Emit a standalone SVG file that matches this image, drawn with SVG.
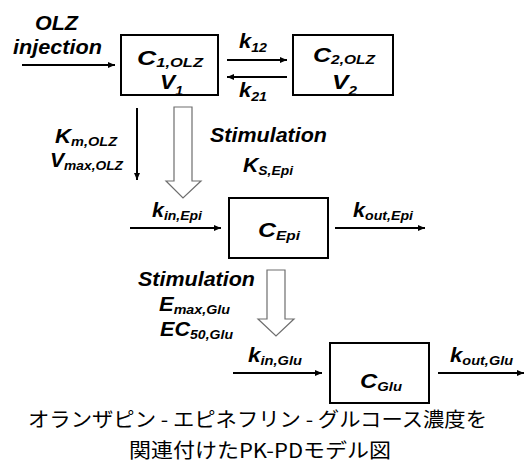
<svg xmlns="http://www.w3.org/2000/svg" width="525" height="464" viewBox="0 0 525 464">
  <style>
    .box { fill: #ffffff; stroke: #000000; stroke-width: 2; }
    .lbl { font-family: "Liberation Sans", Arial, sans-serif; font-weight: bold; font-style: italic; font-size: 20px; fill: #000000; }
    .big { font-size: 21px; }
    .sub { font-size: 13px; }
    .conn { stroke: #000000; stroke-width: 2; fill: none; marker-end: url(#ah); }
    .hollow { fill: #ffffff; stroke: #6e6e6e; stroke-width: 1.2; }
    .cap { font-family: "Noto Sans CJK JP", "Noto Sans", sans-serif; font-size: 20px; fill: #000000; }
  </style>
  <defs>
    <marker id="ah" markerWidth="8" markerHeight="8" refX="7" refY="3.5" orient="auto" markerUnits="userSpaceOnUse">
      <path d="M0,0.5 L7,3.5 L0,6.5 Z" fill="#000000"/>
    </marker>
  </defs>

  <!-- compartments -->
  <g id="central">
    <rect class="box" x="121" y="35" width="97" height="60"/>
    <text class="lbl big" x="137" y="65" textLength="66" lengthAdjust="spacingAndGlyphs">C<tspan class="sub" dy="2">1,OLZ</tspan></text>
    <text class="lbl big" x="160" y="89" textLength="23" lengthAdjust="spacingAndGlyphs">V<tspan class="sub" dy="6">1</tspan></text>
  </g>
  <g id="peripheral">
    <rect class="box" x="293" y="35" width="100" height="60"/>
    <text class="lbl big" x="313" y="62" textLength="62" lengthAdjust="spacingAndGlyphs">C<tspan class="sub" dy="2">2,OLZ</tspan></text>
    <text class="lbl big" x="332" y="89" textLength="25" lengthAdjust="spacingAndGlyphs">V<tspan class="sub" dy="6">2</tspan></text>
  </g>
  <g id="epinephrine">
    <rect class="box" x="229" y="198" width="99" height="60"/>
    <text class="lbl big" x="258" y="237" textLength="42" lengthAdjust="spacingAndGlyphs">C<tspan class="sub" dy="3">Epi</tspan></text>
  </g>
  <g id="glucose">
    <rect class="box" x="330" y="343" width="99" height="60"/>
    <text class="lbl big" x="360" y="388" textLength="42" lengthAdjust="spacingAndGlyphs">C<tspan class="sub" dy="3">Glu</tspan></text>
  </g>

  <!-- connectors -->
  <g id="connectors">
    <line class="conn" x1="22" y1="65" x2="115" y2="65"/>
    <line class="conn" x1="227" y1="60" x2="287" y2="60"/>
    <line class="conn" x1="287" y1="77" x2="227" y2="77"/>
    <line class="conn" x1="137" y1="108" x2="137" y2="180"/>
    <line class="conn" x1="130" y1="228" x2="221" y2="228"/>
    <line class="conn" x1="335" y1="228" x2="425" y2="228"/>
    <line class="conn" x1="233" y1="373" x2="322" y2="373"/>
    <line class="conn" x1="438" y1="373" x2="524" y2="373"/>
    <polygon class="hollow" points="174,107 192,107 192,181 201,181 183,198 166,181 174,181"/>
    <polygon class="hollow" points="267,270 285,270 285,319 294,319 276,336 258,319 267,319"/>
  </g>

  <!-- rate constants and effect labels -->
  <g id="labels">
    <text class="lbl" x="35" y="30" textLength="43" lengthAdjust="spacingAndGlyphs">OLZ</text>
    <text class="lbl" x="13" y="54" textLength="89" lengthAdjust="spacingAndGlyphs">injection</text>
    <text class="lbl" x="239" y="48" textLength="28" lengthAdjust="spacingAndGlyphs">k<tspan class="sub" dy="4">12</tspan></text>
    <text class="lbl" x="239" y="97" textLength="28" lengthAdjust="spacingAndGlyphs">k<tspan class="sub" dy="4">21</tspan></text>
    <text class="lbl" x="55" y="143" textLength="62" lengthAdjust="spacingAndGlyphs">K<tspan class="sub" dy="3">m,OLZ</tspan></text>
    <text class="lbl" x="50" y="167" textLength="73" lengthAdjust="spacingAndGlyphs">V<tspan class="sub" dy="3">max,OLZ</tspan></text>
    <text class="lbl" x="210" y="142" textLength="117" lengthAdjust="spacingAndGlyphs">Stimulation</text>
    <text class="lbl" x="243" y="172" textLength="50" lengthAdjust="spacingAndGlyphs">K<tspan class="sub" dy="3">S,Epi</tspan></text>
    <text class="lbl" x="152" y="217" textLength="50" lengthAdjust="spacingAndGlyphs">k<tspan class="sub" dy="3">in,Epi</tspan></text>
    <text class="lbl" x="353" y="217" textLength="60" lengthAdjust="spacingAndGlyphs">k<tspan class="sub" dy="3">out,Epi</tspan></text>
    <text class="lbl" x="138" y="286" textLength="117" lengthAdjust="spacingAndGlyphs">Stimulation</text>
    <text class="lbl" x="159" y="311" textLength="71" lengthAdjust="spacingAndGlyphs">E<tspan class="sub" dy="3">max,Glu</tspan></text>
    <text class="lbl" x="160" y="336" textLength="73" lengthAdjust="spacingAndGlyphs">EC<tspan class="sub" dy="3">50,Glu</tspan></text>
    <text class="lbl" x="248" y="362" textLength="54" lengthAdjust="spacingAndGlyphs">k<tspan class="sub" dy="3">in,Glu</tspan></text>
    <text class="lbl" x="450" y="362" textLength="63" lengthAdjust="spacingAndGlyphs">k<tspan class="sub" dy="3">out,Glu</tspan></text>
  </g>

  <!-- caption -->
  <g id="caption">
    <text class="cap" x="28" y="427" textLength="459" lengthAdjust="spacingAndGlyphs">オランザピン - エピネフリン - グルコース濃度を</text>
    <text class="cap" x="129" y="458" textLength="262" lengthAdjust="spacingAndGlyphs">関連付けたPK-PDモデル図</text>
  </g>
</svg>
